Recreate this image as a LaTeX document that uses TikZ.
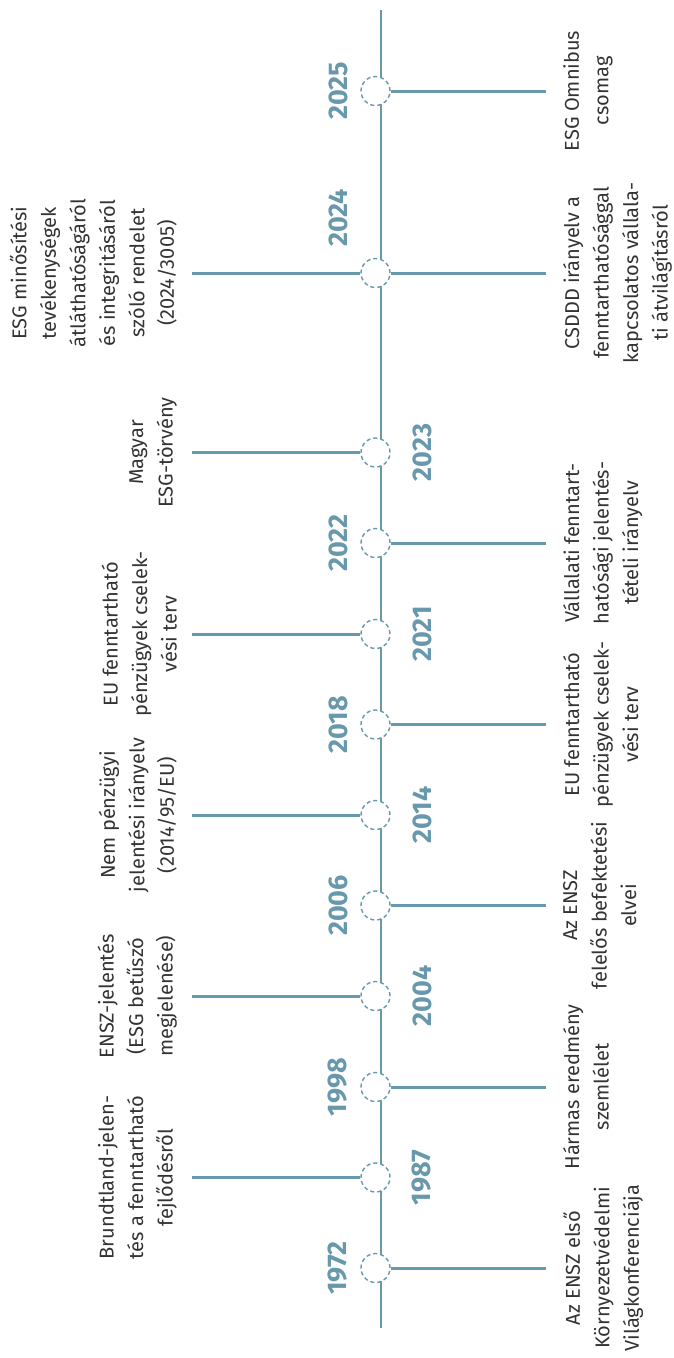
\documentclass[tikz,border=0pt]{standalone}
\usepackage{fontspec}
\setmainfont{Fira Sans}
\usepackage{tikz}
\definecolor{tlblue}{HTML}{6898AC}
\definecolor{txtgray}{HTML}{333333}

\begin{document}
\begin{tikzpicture}[x=1pt,y=-1pt]
            \tikzstyle{every node}+=[inner sep=0pt]
            \tikzstyle{dot}=[circle,draw=tlblue,fill=white,line width=1.4pt,dash pattern=on 4pt off 3pt,minimum size=29pt]
            \tikzstyle{branch}=[tlblue,line width=3pt]
            \tikzstyle{yr}=[rotate=90,text=tlblue,font=\fontsize{27}{30}\selectfont\bfseries]
            \tikzstyle{evr}=[rotate=90,anchor=north,align=center,text=txtgray,font=\fontsize{20}{29.5}\selectfont]
            \tikzstyle{evl}=[rotate=90,anchor=south,align=center,text=txtgray,font=\fontsize{20}{29.5}\selectfont]
            \useasboundingbox (0,0) rectangle (673,1358);
            \coordinate (top) at (381,10);
            \coordinate (bot) at (381,1328);
            \draw [tlblue,line width=2.6pt] (top) -- (bot);
            \node [dot] (c1972) at (375.5,1268) {};
            \node [dot] (c1987) at (375.5,1177.5) {};
            \node [dot] (c1998) at (375.5,1087) {};
            \node [dot] (c2004) at (375.5,996) {};
            \node [dot] (c2006) at (375.5,905.5) {};
            \node [dot] (c2014) at (375.5,815) {};
            \node [dot] (c2018) at (375.5,724.5) {};
            \node [dot] (c2021) at (375.5,634) {};
            \node [dot] (c2022) at (375.5,543) {};
            \node [dot] (c2023) at (375.5,452.5) {};
            \node [dot] (c2024) at (375.5,273) {};
            \node [dot] (c2025) at (375.5,91) {};
            \node [yr] (y1972) at (338,1268) {1972};
            \node [yr] (y1987) at (422,1177.5) {1987};
            \node [yr] (y1998) at (338,1087) {1998};
            \node [yr] (y2004) at (422,996) {2004};
            \node [yr] (y2006) at (338,905.5) {2006};
            \node [yr] (y2014) at (422,815) {2014};
            \node [yr] (y2018) at (338,724.5) {2018};
            \node [yr] (y2021) at (422,634) {2021};
            \node [yr] (y2022) at (338,543) {2022};
            \node [yr] (y2023) at (422,452.5) {2023};
            \node [yr] (y2024) at (338,218) {2024};
            \node [yr] (y2025) at (338,91) {2025};
            \node [evr] (e1972) at (563,1268) {Az ENSZ első\\Környezetvédelmi\\Világkonferenciája};
            \node [evl] (e1987) at (177,1177.5) {Brundtland-jelen-\\tés a fenntartható\\fejlődésről};
            \node [evr] (e1998) at (563,1087) {Hármas eredmény\\szemlélet};
            \node [evl] (e2004) at (177,996) {ENSZ-jelentés\\(ESG betűszó\\megjelenése)};
            \node [evr] (e2006) at (563,905.5) {Az ENSZ\\felelős befektetési\\elvei};
            \node [evl] (e2014) at (177,815) {Nem pénzügyi\\jelentési irányelv\\(2014/95/EU)};
            \node [evr] (e2018) at (563,724.5) {EU fenntartható\\pénzügyek cselek-\\vési terv};
            \node [evl] (e2021) at (177,634) {EU fenntartható\\pénzügyek cselek-\\vési terv};
            \node [evr] (e2022) at (563,543) {Vállalati fenntart-\\hatósági jelentés-\\tételi irányelv};
            \node [evl] (e2023) at (177,452.5) {Magyar\\ESG-törvény};
            \node [evl] (e2024a) at (177,273) {ESG minősítési\\tevékenységek\\átláthatóságáról\\és integritásáról\\szóló rendelet\\(2024/3005)};
            \node [evr] (e2024b) at (563,273) {CSDDD irányelv a\\fenntarthatósággal\\kapcsolatos vállala-\\ti átvilágításról};
            \node [evr] (e2025) at (563,91) {ESG Omnibus\\csomag};
            \draw [branch,shorten >=17pt] (c1972.east) -- (e1972.north);
            \draw [branch,shorten <=15pt] (e1987.south) -- (c1987.west);
            \draw [branch,shorten >=17pt] (c1998.east) -- (e1998.north);
            \draw [branch,shorten <=15pt] (e2004.south) -- (c2004.west);
            \draw [branch,shorten >=17pt] (c2006.east) -- (e2006.north);
            \draw [branch,shorten <=15pt] (e2014.south) -- (c2014.west);
            \draw [branch,shorten >=17pt] (c2018.east) -- (e2018.north);
            \draw [branch,shorten <=15pt] (e2021.south) -- (c2021.west);
            \draw [branch,shorten >=17pt] (c2022.east) -- (e2022.north);
            \draw [branch,shorten <=15pt] (e2023.south) -- (c2023.west);
            \draw [branch,shorten <=15pt] (e2024a.south) -- (c2024.west);
            \draw [branch,shorten >=17pt] (c2024.east) -- (e2024b.north);
            \draw [branch,shorten >=17pt] (c2025.east) -- (e2025.north);
          \end{tikzpicture}
\end{document}
